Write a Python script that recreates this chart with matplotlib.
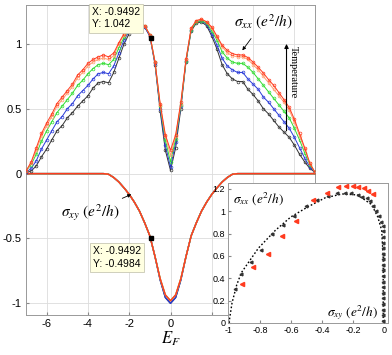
import numpy as np
import matplotlib
matplotlib.use("Agg")
import matplotlib.pyplot as plt

plt.rcParams["mathtext.fontset"] = "stix"
plt.rcParams["font.family"] = ["Liberation Sans", "DejaVu Sans"]

# Fermi energy grid (x positions of the samples)
E = np.arange(-7, 7.01, 0.25)

# sigma_xx for five temperatures (low -> high)
sxx_black = [0.01, 0.02, 0.06, 0.13, 0.19, 0.26, 0.33, 0.37, 0.43, 0.47, 0.52, 0.56, 0.60, 0.66,
             0.70, 0.71, 0.70, 0.78, 0.89, 1.00, 1.08, 1.13, 1.15, 1.13, 1.06, 0.84, 0.48, 0.18,
             0.025,
             0.20, 0.50, 0.86, 1.10, 1.16, 1.17, 1.14, 1.06, 0.96, 0.84, 0.77, 0.73, 0.71, 0.71,
             0.65, 0.61, 0.56, 0.50, 0.46, 0.41, 0.36, 0.32, 0.28, 0.22, 0.15, 0.09, 0.04, 0.01]
sxx_blue = [0.01, 0.04, 0.10, 0.19, 0.26, 0.33, 0.40, 0.44, 0.50, 0.54, 0.60, 0.64, 0.68, 0.73,
            0.77, 0.78, 0.77, 0.83, 0.93, 1.03, 1.10, 1.14, 1.16, 1.13, 1.06, 0.85, 0.50, 0.22,
            0.05,
            0.24, 0.52, 0.87, 1.11, 1.17, 1.18, 1.15, 1.08, 0.99, 0.89, 0.83, 0.80, 0.78, 0.78,
            0.73, 0.69, 0.65, 0.59, 0.55, 0.50, 0.45, 0.40, 0.35, 0.28, 0.20, 0.12, 0.05, 0.01]
sxx_green = [0.02, 0.07, 0.15, 0.25, 0.33, 0.40, 0.47, 0.52, 0.57, 0.62, 0.68, 0.72, 0.77, 0.81,
             0.84, 0.85, 0.84, 0.88, 0.97, 1.05, 1.11, 1.15, 1.16, 1.14, 1.07, 0.86, 0.52, 0.26,
             0.09,
             0.27, 0.53, 0.87, 1.11, 1.17, 1.18, 1.16, 1.10, 1.03, 0.94, 0.89, 0.86, 0.85, 0.85,
             0.82, 0.78, 0.73, 0.68, 0.63, 0.58, 0.53, 0.48, 0.43, 0.35, 0.26, 0.16, 0.07, 0.01]
sxx_orange = [0.02, 0.08, 0.18, 0.29, 0.37, 0.44, 0.52, 0.57, 0.62, 0.67, 0.74, 0.78, 0.83, 0.86,
              0.88, 0.89, 0.88, 0.91, 1.00, 1.07, 1.12, 1.16, 1.17, 1.14, 1.07, 0.86, 0.53, 0.29,
              0.14,
              0.29, 0.54, 0.88, 1.12, 1.18, 1.19, 1.17, 1.12, 1.05, 0.98, 0.93, 0.91, 0.90, 0.90,
              0.88, 0.84, 0.80, 0.75, 0.70, 0.65, 0.60, 0.55, 0.49, 0.40, 0.29, 0.19, 0.08, 0.01]
sxx_red = [0.02, 0.09, 0.20, 0.31, 0.39, 0.46, 0.54, 0.59, 0.64, 0.69, 0.76, 0.80, 0.85, 0.88,
           0.90, 0.915, 0.90, 0.93, 1.01, 1.08, 1.13, 1.16, 1.17, 1.14, 1.07, 0.86, 0.54, 0.30,
           0.18,
           0.30, 0.55, 0.88, 1.12, 1.18, 1.19, 1.17, 1.13, 1.06, 0.99, 0.95, 0.925, 0.915, 0.915,
           0.895, 0.86, 0.82, 0.775, 0.725, 0.68, 0.625, 0.57, 0.51, 0.42, 0.31, 0.20, 0.08, 0.01]

# sigma_xy (nearly temperature independent)
sxy_cold = [0, 0, 0, 0, 0, 0, 0, 0, 0, 0, 0, 0, 0, 0, 0, 0,
            -0.005, -0.03, -0.065, -0.11, -0.16, -0.22, -0.29, -0.38, -0.48, -0.64, -0.82, -0.955,
            -1.0,
            -0.955, -0.82, -0.64, -0.48, -0.38, -0.29, -0.22, -0.16, -0.11, -0.065, -0.03, -0.005,
            0, 0, 0, 0, 0, 0, 0, 0, 0, 0, 0, 0, 0, 0, 0, 0]
sxy_hot = [0, 0, 0, 0, 0, 0, 0, 0, 0, 0, 0, 0, 0, 0, 0, 0,
           -0.005, -0.03, -0.065, -0.11, -0.16, -0.22, -0.29, -0.38, -0.48, -0.64, -0.81, -0.935,
           -0.98,
           -0.935, -0.81, -0.64, -0.48, -0.38, -0.29, -0.22, -0.16, -0.11, -0.065, -0.03, -0.005,
           0, 0, 0, 0, 0, 0, 0, 0, 0, 0, 0, 0, 0, 0, 0, 0]

COLORS = ["#333333", "#2a3bd8", "#33dd33", "#ff9f70", "#ff3b1f"]
SXX = [sxx_black, sxx_blue, sxx_green, sxx_orange, sxx_red]
SXY = [sxy_cold, sxy_cold, sxy_hot, sxy_hot, sxy_hot]

# data tips
tip_x = -0.9492
tip_y_xx = 1.042
tip_y_xy = -0.4984

# inset: sigma_xx vs sigma_xy
fit_xy = [-1.0, -0.98, -0.95, -0.92, -0.88, -0.81, -0.70, -0.60, -0.49, -0.38, -0.27, -0.17,
          -0.08, -0.04, -0.015, -0.005, -0.005]
fit_xx = [0.0, 0.18, 0.34, 0.45, 0.53, 0.67, 0.83, 0.95, 1.04, 1.12, 1.155, 1.146,
          1.06, 0.95, 0.83, 0.60, 0.0]
low_xy = [-0.96, -0.92, -0.86, -0.79, -0.72, -0.65, -0.58, -0.50, -0.43, -0.36, -0.30, -0.25,
          -0.21, -0.17, -0.14, -0.11, -0.09, -0.07, -0.05, -0.035, -0.02,
          -0.004, -0.004, -0.004, -0.004, -0.004, -0.004, -0.004, -0.004, -0.004, -0.004,
          -0.004, -0.004, -0.004, -0.004, -0.004, -0.004, -0.004, -0.004]
low_xx = [0.30, 0.44, 0.55, 0.65, 0.80, 0.88, 0.96, 1.05, 1.10, 1.14, 1.16, 1.165,
          1.16, 1.15, 1.13, 1.12, 1.09, 1.05, 1.00, 0.96, 0.90,
          0.02, 0.07, 0.12, 0.17, 0.22, 0.27, 0.32, 0.37, 0.42, 0.47,
          0.52, 0.57, 0.62, 0.67, 0.72, 0.77, 0.82, 0.87]
high_xy = [-0.918, -0.843, -0.75, -0.66, -0.568, -0.456, -0.37, -0.295, -0.245, -0.202,
           -0.166, -0.13, -0.10, -0.073]
high_xx = [0.35, 0.50, 0.62, 0.78, 0.91, 1.10, 1.16, 1.215, 1.226, 1.226,
           1.22, 1.205, 1.185, 1.155]

W, H = 392, 355
fig = plt.figure(figsize=(W / 100, H / 100), dpi=100)
ax = fig.add_axes([26 / W, 1 - 315 / H, 289 / W, 310 / H])

for c, yy in zip(COLORS, SXY):
    ax.plot(E, yy, color=c, lw=1.0, zorder=2)
for c, yx in zip(COLORS, SXX):
    ax.plot(E, yx, color=c, lw=0.7, marker="o", ms=2.0, mfc="none", mew=0.5, zorder=3)

ax.set_xlim(-7, 7)
ax.set_ylim(-1.09, 1.3)
ax.set_xticks([-6, -4, -2, 0, 2, 4, 6])
ax.set_xticklabels(["-6", "-4", "-2", "0", "", "", ""])
ax.set_yticks([-1, -0.5, 0, 0.5, 1])
ax.set_yticklabels(["-1", "-0.5", "0", "0.5", "1"])
ax.tick_params(direction="in", length=2.5, labelsize=8, color="#888888", pad=3)
ax.grid(True, color="#dcdcdc", lw=0.6)
ax.set_axisbelow(True)
for s in ax.spines.values():
    s.set_color("#999999")
    s.set_linewidth(0.7)
ax.set_xlabel(r"$E_F$", fontsize=12, labelpad=0)

# data tips
tipbox = dict(boxstyle="square,pad=0.3", fc="#ffffe1", ec="#c8c8b4", lw=0.6)
ax.plot([tip_x], [tip_y_xx], "s", color="k", ms=3, zorder=5)
ax.annotate(f"X: {tip_x}\nY: {tip_y_xx}", xy=(tip_x, tip_y_xx), xytext=(-59, 9),
            textcoords="offset pixels", ha="left", va="bottom", fontsize=7.5,
            linespacing=1.35, bbox=tipbox, zorder=6)
ax.plot([tip_x], [tip_y_xy], "s", color="k", ms=3, zorder=5)
ax.annotate(f"X: {tip_x}\nY: {tip_y_xy}", xy=(tip_x, tip_y_xy), xytext=(-58, -8),
            textcoords="offset pixels", ha="left", va="top", fontsize=7.5,
            linespacing=1.35, bbox=tipbox, zorder=6)

# labels with arrows
ax.annotate(r"$\sigma_{xx}\ (e^2/h)$", xy=(3.48, 0.95), xytext=(4.5, 1.17),
            ha="center", va="center", fontsize=11,
            arrowprops=dict(arrowstyle="-|>", lw=0.6, color="k", mutation_scale=5,
                            shrinkA=4, shrinkB=0))
ax.annotate(r"$\sigma_{xy}\ (e^2/h)$", xy=(-1.9, -0.16), xytext=(-3.9, -0.3),
            ha="center", va="center", fontsize=11,
            arrowprops=dict(arrowstyle="-|>", lw=0.6, color="k", mutation_scale=5,
                            shrinkA=2, shrinkB=0))
ax.annotate("", xy=(5.62, 1.0), xytext=(5.62, 0.33),
            arrowprops=dict(arrowstyle="-|>", lw=0.8, color="k", mutation_scale=6,
                            shrinkA=0, shrinkB=0))
ax.text(5.95, 0.78, "Temperature", rotation=270, ha="center", va="center",
        fontsize=7.5, family=["Liberation Serif", "DejaVu Serif"])

# inset
ins = fig.add_axes([228 / W, 1 - 323 / H, 160 / W, 140 / H])
ins.plot(fit_xy, fit_xx, ls=(0, (1.2, 1.5)), color="k", lw=1.0, zorder=2)
ins.plot(low_xy, low_xx, ls="none", marker="<", ms=2.0, color="#333333", zorder=3)
ins.plot(high_xy, high_xx, ls="none", marker="<", ms=3.0, color="#ff3b1f", mec="#ff3b1f", zorder=4)
ins.set_xlim(-1.006, 0.026)
ins.set_ylim(0, 1.253)
ins.set_xticks([-1, -0.8, -0.6, -0.4, -0.2, 0])
ins.set_xticklabels(["-1", "-0.8", "-0.6", "-0.4", "-0.2", "0"])
ins.set_yticks([0, 0.2, 0.4, 0.6, 0.8, 1.0, 1.2])
ins.set_yticklabels(["0", "0.2", "0.4", "0.6", "0.8", "1", "1.2"])
ins.tick_params(direction="in", length=2, labelsize=6.5, color="#888888", pad=2)
for s in ins.spines.values():
    s.set_color("#999999")
    s.set_linewidth(0.7)
ins.text(0.03, 0.89, r"$\sigma_{xx}\ (e^2/h)$", transform=ins.transAxes,
         ha="left", va="center", fontsize=9.5)
ins.text(0.94, 0.075, r"$\sigma_{xy}\ (e^2/h)$", transform=ins.transAxes,
         ha="right", va="center", fontsize=9.5)

fig.savefig("out.png", dpi=100)
